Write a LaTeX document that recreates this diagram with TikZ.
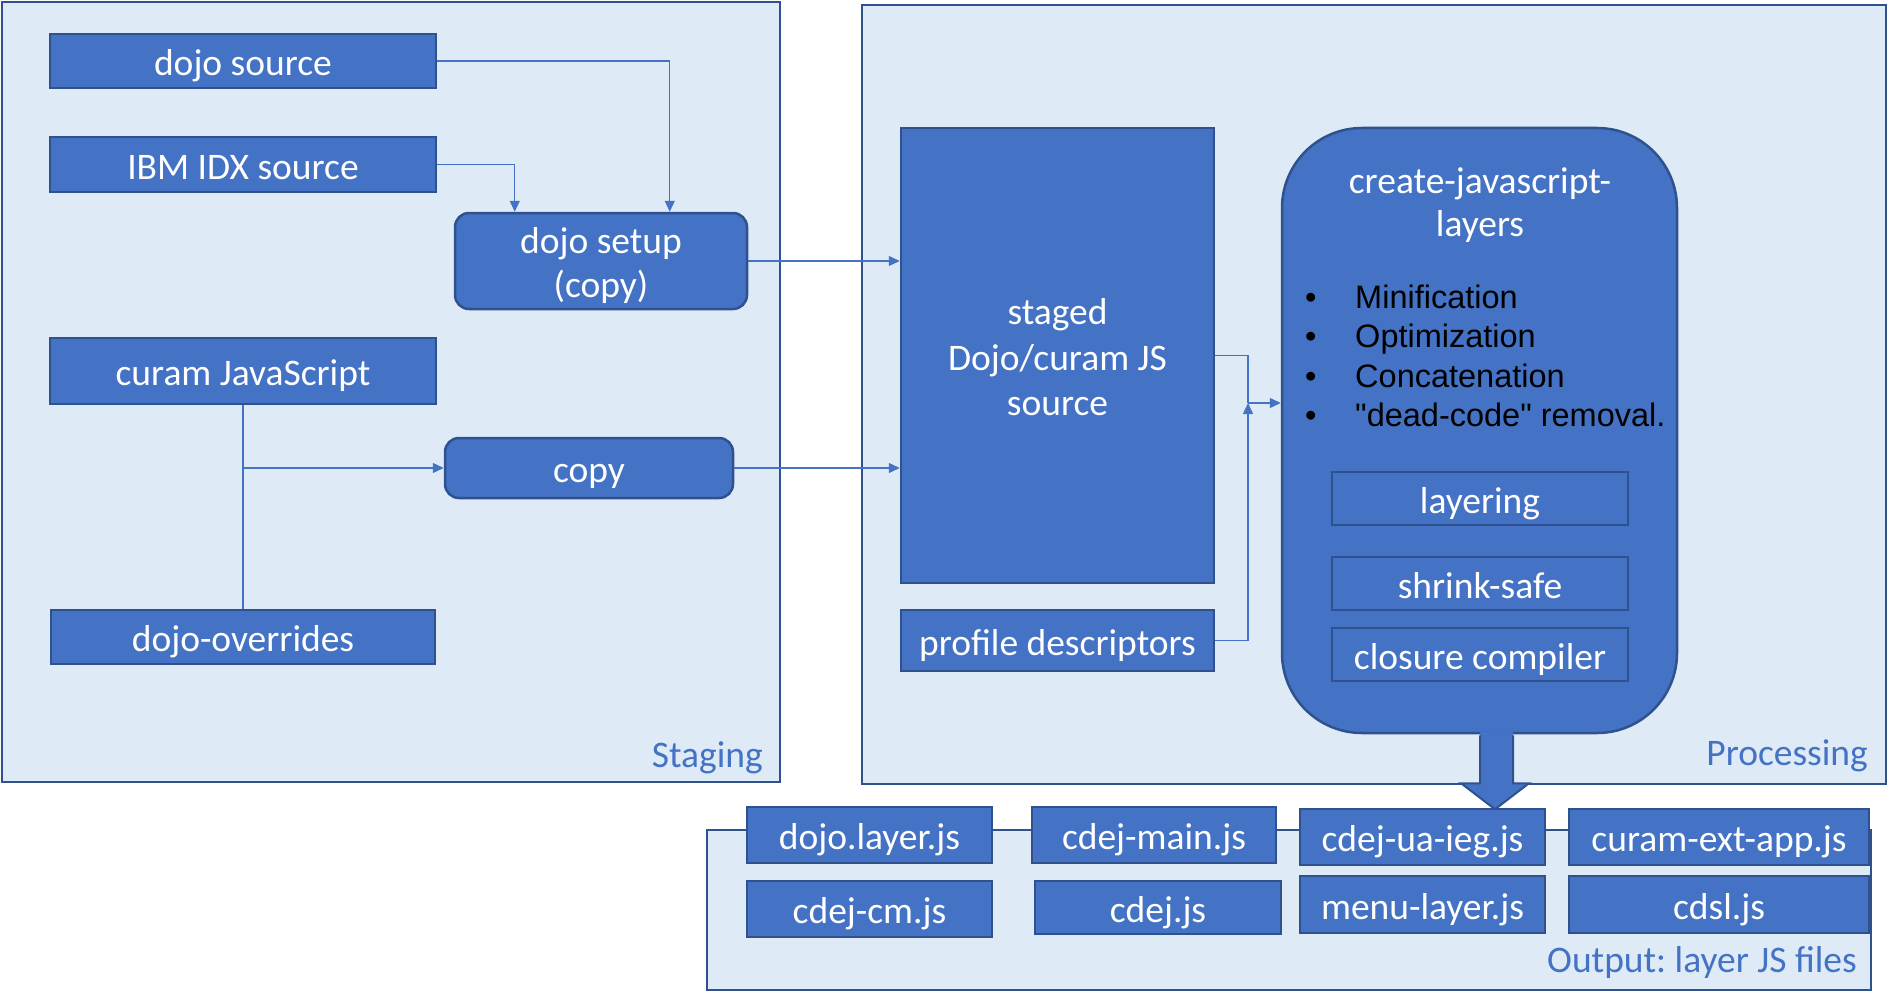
\documentclass[tikz,border=0pt]{standalone}
\usepackage{fontspec}
\setmainfont{Carlito}
\newfontfamily\arialf{Liberation Sans}
\usetikzlibrary{arrows.meta,calc}
\definecolor{myblue}{HTML}{4472C4}
\definecolor{mydark}{HTML}{2F528F}
\definecolor{panelbg}{HTML}{DEEBF7}
\newcommand\mystrut{\rule[-6pt]{0pt}{41.5pt}}
\frenchspacing
\begin{document}
\begin{tikzpicture}[x=1pt,y=-1pt,
 panel/.style={fill=panelbg, draw=mydark, line width=2pt, inner sep=0pt, anchor=north west},
 boxfill/.style={fill=myblue, draw=mydark, line width=2.5pt, text=white, inner sep=0pt, font=\fontsize{37.5}{44}\selectfont},
 box/.style={boxfill, text height=35.5pt, text depth=6pt},
 rbox/.style={box, rounded corners=14pt},
 conn/.style={draw=myblue, line width=1.4pt, -{Triangle[length=11pt,width=10pt]}},
 plain/.style={draw=myblue, line width=1.4pt},
 lab/.style={text=myblue, font=\fontsize{37.5}{44}\selectfont, anchor=base east, inner sep=0pt},
 bul/.style={font=\arialf\fontsize{32.5}{38}\selectfont, anchor=base west, inner sep=0pt, text=black},
]
\useasboundingbox[fill=white] (0,0) rectangle (1893,1006);

% panels
\node[panel, minimum width=778pt, minimum height=780pt] (staging) at (1,1) {};
\node[panel, minimum width=1024pt, minimum height=779pt] (processing) at (861,4) {};
\node[panel, minimum width=1164pt, minimum height=160pt] (outp) at (706,829) {};

% staging boxes
\node[box, minimum width=386pt, minimum height=54pt] (dojosrc) at (243,61) {dojo source};
\node[box, minimum width=386pt, minimum height=55pt] (ibm) at (243,164.5) {IBM IDX source};
\node[boxfill, rounded corners=14pt, minimum width=292pt, minimum height=96pt, align=center] (setup) at (601,261) {\mystrut dojo setup\\\mystrut(copy)};
\node[box, minimum width=386pt, minimum height=66pt] (curam) at (243,371) {curam JavaScript};
\node[rbox, minimum width=288pt, minimum height=60pt] (copy) at (589,468) {copy};
\node[box, minimum width=384pt, minimum height=54pt] (over) at (243,637) {dojo-overrides};

% processing
\node[boxfill, minimum width=313pt, minimum height=455pt, align=center, font=\fontsize{37.5}{45.5}\selectfont] (staged) at (1057.5,355.5) {\mystrut staged\\\mystrut Dojo/curam JS\\\mystrut source};
\node[box, minimum width=313pt, minimum height=61pt] (prof) at (1057.5,640.5) {profile descriptors};
\node[boxfill, rounded corners=80pt, minimum width=395pt, minimum height=605pt] (create) at (1479.5,430.5) {};
\node[inner sep=0pt, text=white, font=\fontsize{37.5}{43}\selectfont, align=center] (ctitle) at (1480,200.7) {\mystrut create-javascript-\\\mystrut layers};
\node[bul] (b1) at (1305,308) {•};
\node[bul] (t1) at (1355,308) {Minification};
\node[bul] (b2) at (1305,347.5) {•};
\node[bul] (t2) at (1355,347.5) {Optimization};
\node[bul] (b3) at (1305,387) {•};
\node[bul] (t3) at (1355,387) {Concatenation};
\node[bul] (b4) at (1305,426) {•};
\node[bul] (t4) at (1355,426) {"dead-code" removal.};
\node[box, line width=2pt, minimum width=296pt, minimum height=53pt] (lay) at (1480,498.5) {layering};
\node[box, line width=2pt, minimum width=296pt, minimum height=53pt] (shr) at (1480,583.5) {shrink-safe};
\node[box, line width=2pt, minimum width=296pt, minimum height=53pt] (clo) at (1480,654.5) {closure compiler};

% output files
\node[box, minimum width=245pt, minimum height=56pt] (f1) at (869.5,835) {dojo.layer.js};
\node[box, minimum width=244pt, minimum height=56pt] (f2) at (1154,835) {cdej-main.js};
\node[box, minimum width=245pt, minimum height=56pt] (f3) at (1422.5,837) {cdej-ua-ieg.js};
\node[box, minimum width=300pt, minimum height=56pt] (f4) at (1719,837) {curam-ext-app.js};
\node[box, minimum width=245pt, minimum height=56pt] (f5) at (869.5,909) {cdej-cm.js};
\node[box, minimum width=246pt, minimum height=53pt] (f6) at (1158,907.5) {cdej.js};
\node[box, minimum width=245pt, minimum height=57pt] (f7) at (1422.5,904.5) {menu-layer.js};
\node[box, minimum width=300pt, minimum height=57pt] (f8) at (1719,904.5) {cdsl.js};

% labels
\node[lab] (lstag) at (763,767) {Staging};
\node[lab] (lproc) at (1868,765) {Processing};
\node[lab] (lout) at (1857,972) {Output: layer JS files};

% connectors
\draw[conn] (dojosrc.east) -| ([xshift=216pt]setup.north west);
\draw[conn] (ibm.east) -| ([xshift=61pt]setup.north west);
\draw[conn] (setup.east) -- (setup.east -| staged.west);
\draw[plain] (curam.south) -- (over.north);
\draw[conn] (curam.south |- copy.west) -- (copy.west);
\draw[conn] (copy.east) -- (copy.east -| staged.west);
\coordinate (j) at (1248,403);
\draw[plain] (staged.east) -| (j);
\draw[conn] (j) -- (j -| create.west);
\draw[conn] (prof.east) -| (j);

% big arrow
\fill[myblue] ($(create.south)+(0.5,-3)$) -- ($(create.south)+(0.5,49)$) -- ($(create.south)+(-18.5,49)$) -- ($(create.south)+(15.5,75)$) -- ($(create.south)+(49.5,49)$) -- ($(create.south)+(33.5,49)$) -- ($(create.south)+(33.5,-3)$) -- cycle;
\draw[mydark, line width=2pt, line join=miter] ($(create.south)+(0.5,1)$) -- ($(create.south)+(0.5,49)$) -- ($(create.south)+(-18.5,49)$) -- ($(create.south)+(15.5,75)$) -- ($(create.south)+(49.5,49)$) -- ($(create.south)+(33.5,49)$) -- ($(create.south)+(33.5,1)$);
\end{tikzpicture}
\end{document}
